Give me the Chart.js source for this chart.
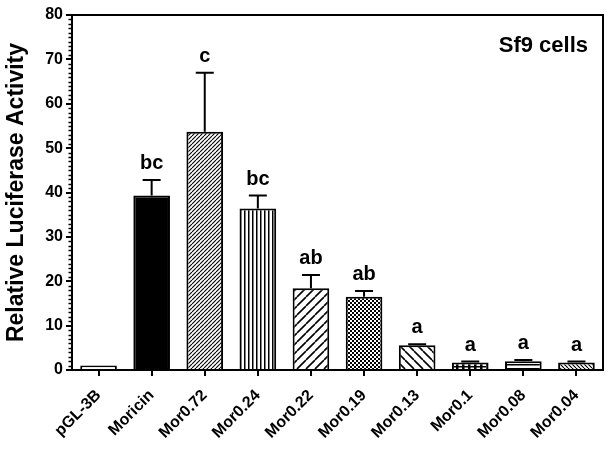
<!DOCTYPE html>
<html>
<head>
<meta charset="utf-8">
<script src="https://cdn.jsdelivr.net/npm/chart.js@4.4.1/dist/chart.umd.min.js"></script>
<style>
  html, body { margin: 0; padding: 0; background: #fff; }
  canvas { display: block; }
</style>
</head>
<body>
<canvas id="c" width="612" height="450"></canvas>
<script>
const categories = ['pGL-3B', 'Moricin', 'Mor0.72', 'Mor0.24', 'Mor0.22', 'Mor0.19', 'Mor0.13', 'Mor0.1', 'Mor0.08', 'Mor0.04'];
const means = [1.0, 39.3, 53.7, 36.4, 18.4, 16.5, 5.6, 1.7, 2.0, 1.7];
const errors = [0, 3.5, 13.3, 2.9, 3.0, 1.3, 0.2, 0.2, 0.25, 0.2];
const letters = ['', 'bc', 'c', 'bc', 'ab', 'ab', 'a', 'a', 'a', 'a'];
const yTicks = [0, 10, 20, 30, 40, 50, 60, 70, 80];
const yTitle = 'Relative Luciferase Activity';
const panelLabel = 'Sf9 cells';

// fill styles (one per category)
const patternKinds = ['white', 'solid', 'fineDiag', 'vert', 'wideDiag', 'check', 'wideBack', 'grid', 'horiz', 'fineBack'];

const FONT = "'Liberation Sans', Arial, Helvetica, sans-serif";

function makePattern(kind) {
  if (kind === 'white') return '#ffffff';
  if (kind === 'solid') return '#000000';
  const c = document.createElement('canvas');
  const draw = (size, fn) => { c.width = size; c.height = size; const g = c.getContext('2d'); g.fillStyle = '#fff'; g.fillRect(0, 0, size, size); g.strokeStyle = '#000'; g.fillStyle = '#000'; fn(g, size); };
  const diag = (g, n, w, back) => {
    g.lineWidth = w;
    g.beginPath();
    for (let k = -1; k <= 1; k++) {
      if (!back) { g.moveTo(k * n, n); g.lineTo(k * n + n, 0); }
      else { g.moveTo(k * n, 0); g.lineTo(k * n + n, n); }
    }
    g.stroke();
  };
  switch (kind) {
    case 'fineDiag': draw(4, (g, n) => diag(g, n, 1.1, false)); break;
    case 'fineBack': draw(4, (g, n) => diag(g, n, 1.1, true)); break;
    case 'wideDiag': draw(9, (g, n) => diag(g, n, 1.6, false)); break;
    case 'wideBack': draw(9, (g, n) => diag(g, n, 1.6, true)); break;
    case 'vert': draw(4, (g, n) => { g.fillRect(0, 0, 1.5, n); }); break;
    case 'horiz': draw(4, (g, n) => { g.fillRect(0, 0, n, 1.5); }); break;
    case 'check': draw(4, (g, n) => { g.fillRect(0, 0, 2, 2); g.fillRect(2, 2, 2, 2); }); break;
    case 'grid': draw(6, (g, n) => { g.fillRect(0, 0, 2.5, n); g.fillRect(0, 0, n, 1.5); }); break;
  }
  const ctx = document.getElementById('c').getContext('2d');
  return ctx.createPattern(c, 'repeat');
}

const fills = patternKinds.map(makePattern);

const minorTicks = {
  id: 'minorTicks',
  afterDraw(chart) {
    const y = chart.scales.y; const ctx = chart.ctx;
    const x0 = chart.chartArea.left;
    ctx.save(); ctx.strokeStyle = '#000'; ctx.lineWidth = 1.5;
    for (let v = y.min; v <= y.max; v += 1) {
      if (v % 10 === 0) continue;
      const py = Math.round(y.getPixelForValue(v)) + 0.5;
      ctx.beginPath(); ctx.moveTo(x0 - 3.5, py); ctx.lineTo(x0, py); ctx.stroke();
    }
    ctx.restore();
  }
};

const frame = {
  id: 'frame',
  afterDraw(chart) {
    const a = chart.chartArea; const ctx = chart.ctx;
    ctx.save(); ctx.strokeStyle = '#000'; ctx.lineWidth = 2;
    ctx.beginPath();
    ctx.moveTo(a.left, a.top); ctx.lineTo(a.right, a.top); ctx.lineTo(a.right, a.bottom);
    ctx.stroke();
    ctx.font = 'bold 22px ' + FONT; ctx.fillStyle = '#000'; ctx.textAlign = 'right'; ctx.textBaseline = 'alphabetic';
    ctx.fillText(panelLabel, a.right - 15, a.top + 37);
    ctx.restore();
  }
};

const errorBars = {
  id: 'errorBars',
  afterDatasetsDraw(chart) {
    const ctx = chart.ctx; const y = chart.scales.y;
    const meta = chart.getDatasetMeta(0);
    ctx.save(); ctx.strokeStyle = '#000'; ctx.lineWidth = 2;
    meta.data.forEach((bar, i) => {
      const top = y.getPixelForValue(means[i]);
      const ey = y.getPixelForValue(means[i] + errors[i]);
      if (errors[i] > 0) {
        ctx.beginPath();
        ctx.moveTo(bar.x, top); ctx.lineTo(bar.x, ey);
        ctx.moveTo(bar.x - 9, ey); ctx.lineTo(bar.x + 9, ey);
        ctx.stroke();
      }
      if (letters[i]) {
        ctx.font = 'bold 20px ' + FONT; ctx.fillStyle = '#000';
        ctx.textAlign = 'center'; ctx.textBaseline = 'alphabetic';
        ctx.fillText(letters[i], bar.x, Math.min(ey, top) - 11);
      }
    });
    ctx.restore();
  }
};

new Chart(document.getElementById('c'), {
  type: 'bar',
  data: {
    labels: categories,
    datasets: [{
      data: means,
      backgroundColor: fills,
      borderColor: '#000',
      borderWidth: 2,
      borderSkipped: 'bottom',
      barPercentage: 0.69,
      categoryPercentage: 1.0
    }]
  },
  options: {
    responsive: false,
    animation: false,
    devicePixelRatio: 1,
    layout: { padding: { top: 15, right: 9, left: 0, bottom: 0 } },
    plugins: { legend: { display: false }, tooltip: { enabled: false }, title: { display: false } },
    scales: {
      x: {
        offset: true,
        afterFit(s) { s.height = 80; },
        grid: { offset: false, drawOnChartArea: false, tickLength: 6, color: '#000', lineWidth: 2 },
        border: { display: true, color: '#000', width: 2 },
        ticks: { color: '#000', font: { family: FONT, size: 16, weight: 'bold' }, minRotation: 45, maxRotation: 45, padding: 10, autoSkip: false }
      },
      y: {
        min: 0, max: 80,
        afterFit(s) { s.width = 72; },
        afterBuildTicks(s) { s.ticks = yTicks.map(v => ({ value: v })); },
        grid: { drawOnChartArea: false, tickLength: 6, color: '#000', lineWidth: 2 },
        border: { display: true, color: '#000', width: 2 },
        ticks: { color: '#000', font: { family: FONT, size: 16, weight: 'bold' }, padding: 3 },
        title: { display: true, text: yTitle, color: '#000', font: { family: FONT, size: 23, weight: 'bold' }, padding: { top: 3, bottom: 0 } }
      }
    }
  },
  plugins: [minorTicks, frame, errorBars]
});
</script>
</body>
</html>
